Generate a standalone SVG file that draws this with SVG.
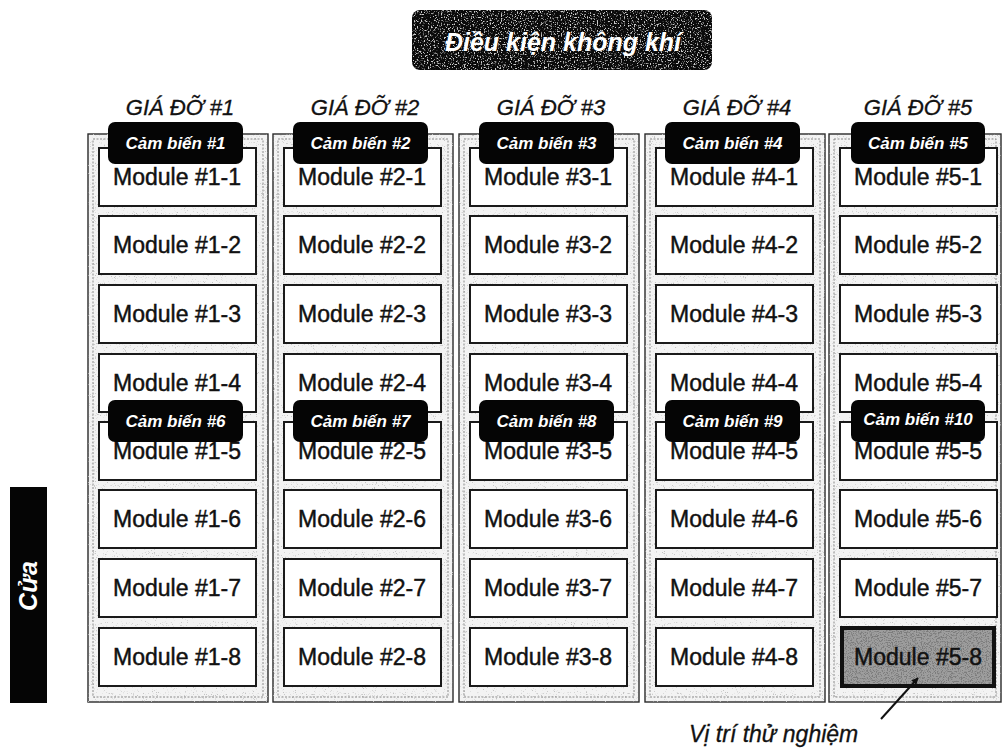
<svg xmlns="http://www.w3.org/2000/svg" width="1003" height="749" viewBox="0 0 1003 749">
  <style>
    .rack-outer { fill: #f3f3f3; stroke: #2a2a2a; stroke-width: 1.4; }
    .rack-inner { fill: none; stroke: #8a8a8a; stroke-width: 1; stroke-dasharray: 2 1.5; }
    .module { fill: #ffffff; stroke: #1a1a1a; stroke-width: 2; }
    .module-text { font-family: "Liberation Sans", Arial, sans-serif; font-size: 23px; fill: #111; stroke: #111; stroke-width: 0.45; text-anchor: middle; }
    .rack-title { font-family: "Liberation Sans", Arial, sans-serif; font-size: 22px; font-style: italic; fill: #111; stroke: #111; stroke-width: 0.3; text-anchor: middle; }
    .sensor { fill: #050505; }
    .sensor-text { font-family: "Liberation Sans", Arial, sans-serif; font-size: 17px; font-weight: bold; font-style: italic; fill: #fff; text-anchor: middle; }
    .banner-text { font-family: "Liberation Sans", Arial, sans-serif; font-weight: bold; font-style: italic; fill: #fff; text-anchor: middle; }
    .note { font-family: "Liberation Sans", Arial, sans-serif; font-size: 23px; font-style: italic; fill: #111; stroke: #111; stroke-width: 0.3; }
  </style>
  <defs>
    <!-- sparse light speckles -->
    <filter id="dust" x="0" y="0" width="100%" height="100%">
      <feTurbulence type="fractalNoise" baseFrequency="0.9" numOctaves="2" seed="7" result="n"/>
      <feColorMatrix in="n" type="matrix" values="0 0 0 0 0.55  0 0 0 0 0.55  0 0 0 0 0.55  7 0 0 0 -4.4"/>
      <feComposite in2="SourceGraphic" operator="in"/>
    </filter>
    <!-- grey grain for the dark banner -->
    <filter id="grain" x="0" y="0" width="100%" height="100%">
      <feTurbulence type="fractalNoise" baseFrequency="0.7" numOctaves="3" seed="3" result="n"/>
      <feColorMatrix in="n" type="matrix" values="0 0 0 0 0.62  0 0 0 0 0.62  0 0 0 0 0.62  6 0 0 0 -3.3"/>
      <feComposite in2="SourceGraphic" operator="in"/>
    </filter>
    <!-- dark grain over the highlighted module -->
    <filter id="grainDark" x="0" y="0" width="100%" height="100%">
      <feTurbulence type="fractalNoise" baseFrequency="0.8" numOctaves="2" seed="11" result="n"/>
      <feColorMatrix in="n" type="matrix" values="0 0 0 0 0.2  0 0 0 0 0.2  0 0 0 0 0.2  6 0 0 0 -2.9"/>
      <feComposite in2="SourceGraphic" operator="in"/>
    </filter>
    <marker id="arrow" viewBox="0 0 10 10" refX="9" refY="5" markerWidth="7" markerHeight="7" orient="auto" markerUnits="userSpaceOnUse">
      <path d="M0,0 L10,5 L0,10 z" fill="#111"/>
    </marker>
  </defs>

  <rect width="1003" height="749" fill="#ffffff"/>

  <!-- air-condition banner -->
  <g id="banner">
    <rect x="412" y="10" width="300" height="60" rx="8" fill="#0a0a0a"/>
    <rect x="412" y="10" width="300" height="60" rx="8" fill="#000" filter="url(#grain)"/>
    <text class="banner-text" x="563" y="51" font-size="25">Điều kiện không khí</text>
  </g>

  <!-- door label -->
  <g id="door">
    <rect x="10" y="487" width="37" height="216" fill="#050505"/>
    <text class="banner-text" font-size="25" transform="translate(37,586) rotate(-90)">Cửa</text>
  </g>

  <!-- rack 1 -->
  <g id="rack1">
    <rect class="rack-outer" x="88" y="134" width="180" height="568"/>
    <rect x="88" y="134" width="180" height="568" fill="#000" filter="url(#dust)"/>
    <rect class="rack-inner" x="93" y="139" width="170" height="558"/>
    <text class="rack-title" x="180" y="115">GIÁ ĐỠ #1</text>
    <rect class="module" x="99" y="148" width="157" height="58"/><text class="module-text" x="177" y="185">Module #1-1</text>
    <rect class="module" x="99" y="216" width="157" height="58"/><text class="module-text" x="177" y="253">Module #1-2</text>
    <rect class="module" x="99" y="285" width="157" height="58"/><text class="module-text" x="177" y="322">Module #1-3</text>
    <rect class="module" x="99" y="354" width="157" height="58"/><text class="module-text" x="177" y="391">Module #1-4</text>
    <rect class="module" x="99" y="422" width="157" height="58"/><text class="module-text" x="177" y="459">Module #1-5</text>
    <rect class="module" x="99" y="490" width="157" height="58"/><text class="module-text" x="177" y="527">Module #1-6</text>
    <rect class="module" x="99" y="559" width="157" height="58"/><text class="module-text" x="177" y="596">Module #1-7</text>
    <rect class="module" x="99" y="628" width="157" height="58"/><text class="module-text" x="177" y="665">Module #1-8</text>
  </g>

  <!-- rack 2 -->
  <g id="rack2">
    <rect class="rack-outer" x="273" y="134" width="180" height="568"/>
    <rect x="273" y="134" width="180" height="568" fill="#000" filter="url(#dust)"/>
    <rect class="rack-inner" x="278" y="139" width="170" height="558"/>
    <text class="rack-title" x="365" y="115">GIÁ ĐỠ #2</text>
    <rect class="module" x="284" y="148" width="157" height="58"/><text class="module-text" x="362" y="185">Module #2-1</text>
    <rect class="module" x="284" y="216" width="157" height="58"/><text class="module-text" x="362" y="253">Module #2-2</text>
    <rect class="module" x="284" y="285" width="157" height="58"/><text class="module-text" x="362" y="322">Module #2-3</text>
    <rect class="module" x="284" y="354" width="157" height="58"/><text class="module-text" x="362" y="391">Module #2-4</text>
    <rect class="module" x="284" y="422" width="157" height="58"/><text class="module-text" x="362" y="459">Module #2-5</text>
    <rect class="module" x="284" y="490" width="157" height="58"/><text class="module-text" x="362" y="527">Module #2-6</text>
    <rect class="module" x="284" y="559" width="157" height="58"/><text class="module-text" x="362" y="596">Module #2-7</text>
    <rect class="module" x="284" y="628" width="157" height="58"/><text class="module-text" x="362" y="665">Module #2-8</text>
  </g>

  <!-- rack 3 -->
  <g id="rack3">
    <rect class="rack-outer" x="459" y="134" width="180" height="568"/>
    <rect x="459" y="134" width="180" height="568" fill="#000" filter="url(#dust)"/>
    <rect class="rack-inner" x="464" y="139" width="170" height="558"/>
    <text class="rack-title" x="551" y="115">GIÁ ĐỠ #3</text>
    <rect class="module" x="470" y="148" width="157" height="58"/><text class="module-text" x="548" y="185">Module #3-1</text>
    <rect class="module" x="470" y="216" width="157" height="58"/><text class="module-text" x="548" y="253">Module #3-2</text>
    <rect class="module" x="470" y="285" width="157" height="58"/><text class="module-text" x="548" y="322">Module #3-3</text>
    <rect class="module" x="470" y="354" width="157" height="58"/><text class="module-text" x="548" y="391">Module #3-4</text>
    <rect class="module" x="470" y="422" width="157" height="58"/><text class="module-text" x="548" y="459">Module #3-5</text>
    <rect class="module" x="470" y="490" width="157" height="58"/><text class="module-text" x="548" y="527">Module #3-6</text>
    <rect class="module" x="470" y="559" width="157" height="58"/><text class="module-text" x="548" y="596">Module #3-7</text>
    <rect class="module" x="470" y="628" width="157" height="58"/><text class="module-text" x="548" y="665">Module #3-8</text>
  </g>

  <!-- rack 4 -->
  <g id="rack4">
    <rect class="rack-outer" x="645" y="134" width="180" height="568"/>
    <rect x="645" y="134" width="180" height="568" fill="#000" filter="url(#dust)"/>
    <rect class="rack-inner" x="650" y="139" width="170" height="558"/>
    <text class="rack-title" x="737" y="115">GIÁ ĐỠ #4</text>
    <rect class="module" x="656" y="148" width="157" height="58"/><text class="module-text" x="734" y="185">Module #4-1</text>
    <rect class="module" x="656" y="216" width="157" height="58"/><text class="module-text" x="734" y="253">Module #4-2</text>
    <rect class="module" x="656" y="285" width="157" height="58"/><text class="module-text" x="734" y="322">Module #4-3</text>
    <rect class="module" x="656" y="354" width="157" height="58"/><text class="module-text" x="734" y="391">Module #4-4</text>
    <rect class="module" x="656" y="422" width="157" height="58"/><text class="module-text" x="734" y="459">Module #4-5</text>
    <rect class="module" x="656" y="490" width="157" height="58"/><text class="module-text" x="734" y="527">Module #4-6</text>
    <rect class="module" x="656" y="559" width="157" height="58"/><text class="module-text" x="734" y="596">Module #4-7</text>
    <rect class="module" x="656" y="628" width="157" height="58"/><text class="module-text" x="734" y="665">Module #4-8</text>
  </g>

  <!-- rack 5 -->
  <g id="rack5">
    <rect class="rack-outer" x="829" y="134" width="172" height="568"/>
    <rect x="829" y="134" width="172" height="568" fill="#000" filter="url(#dust)"/>
    <rect class="rack-inner" x="834" y="139" width="162" height="558"/>
    <text class="rack-title" x="918" y="115">GIÁ ĐỠ #5</text>
    <rect class="module" x="840" y="148" width="157" height="58"/><text class="module-text" x="918" y="185">Module #5-1</text>
    <rect class="module" x="840" y="216" width="157" height="58"/><text class="module-text" x="918" y="253">Module #5-2</text>
    <rect class="module" x="840" y="285" width="157" height="58"/><text class="module-text" x="918" y="322">Module #5-3</text>
    <rect class="module" x="840" y="354" width="157" height="58"/><text class="module-text" x="918" y="391">Module #5-4</text>
    <rect class="module" x="840" y="422" width="157" height="58"/><text class="module-text" x="918" y="459">Module #5-5</text>
    <rect class="module" x="840" y="490" width="157" height="58"/><text class="module-text" x="918" y="527">Module #5-6</text>
    <rect class="module" x="840" y="559" width="157" height="58"/><text class="module-text" x="918" y="596">Module #5-7</text>
    <!-- test position -->
    <rect x="842" y="628" width="152" height="58" fill="#9e9e9e" stroke="#111" stroke-width="4"/>
    <rect x="844" y="630" width="148" height="54" fill="#000" filter="url(#grainDark)"/>
    <text class="module-text" x="918" y="665">Module #5-8</text>
  </g>

  <!-- sensors -->
  <g id="sensors">
    <g id="sensor1"><rect class="sensor" x="108" y="122" width="135" height="42" rx="7"/><text class="sensor-text" x="175.5" y="149">Cảm biến #1</text></g>
    <g id="sensor2"><rect class="sensor" x="293" y="122" width="135" height="42" rx="7"/><text class="sensor-text" x="360.5" y="149">Cảm biến #2</text></g>
    <g id="sensor3"><rect class="sensor" x="479" y="122" width="135" height="42" rx="7"/><text class="sensor-text" x="546.5" y="149">Cảm biến #3</text></g>
    <g id="sensor4"><rect class="sensor" x="665" y="122" width="135" height="42" rx="7"/><text class="sensor-text" x="732.5" y="149">Cảm biến #4</text></g>
    <g id="sensor5"><rect class="sensor" x="851" y="122" width="134" height="42" rx="7"/><text class="sensor-text" x="918" y="149">Cảm biến #5</text></g>
    <g id="sensor6"><rect class="sensor" x="108" y="400" width="135" height="42" rx="7"/><text class="sensor-text" x="175.5" y="427">Cảm biến #6</text></g>
    <g id="sensor7"><rect class="sensor" x="293" y="400" width="135" height="42" rx="7"/><text class="sensor-text" x="360.5" y="427">Cảm biến #7</text></g>
    <g id="sensor8"><rect class="sensor" x="479" y="400" width="135" height="42" rx="7"/><text class="sensor-text" x="546.5" y="427">Cảm biến #8</text></g>
    <g id="sensor9"><rect class="sensor" x="665" y="400" width="135" height="42" rx="7"/><text class="sensor-text" x="732.5" y="427">Cảm biến #9</text></g>
    <g id="sensor10"><rect class="sensor" x="851" y="400" width="134" height="42" rx="7"/><text class="sensor-text" x="918" y="425" font-size="15">Cảm biến #10</text></g>
  </g>

  <!-- connectors -->
  <g id="connectors">
    <line x1="881" y1="719" x2="918" y2="678" stroke="#111" stroke-width="2" marker-end="url(#arrow)"/>
  </g>

  <g id="test-note">
    <text class="note" x="689" y="742">Vị trí thử nghiệm</text>
  </g>
</svg>
